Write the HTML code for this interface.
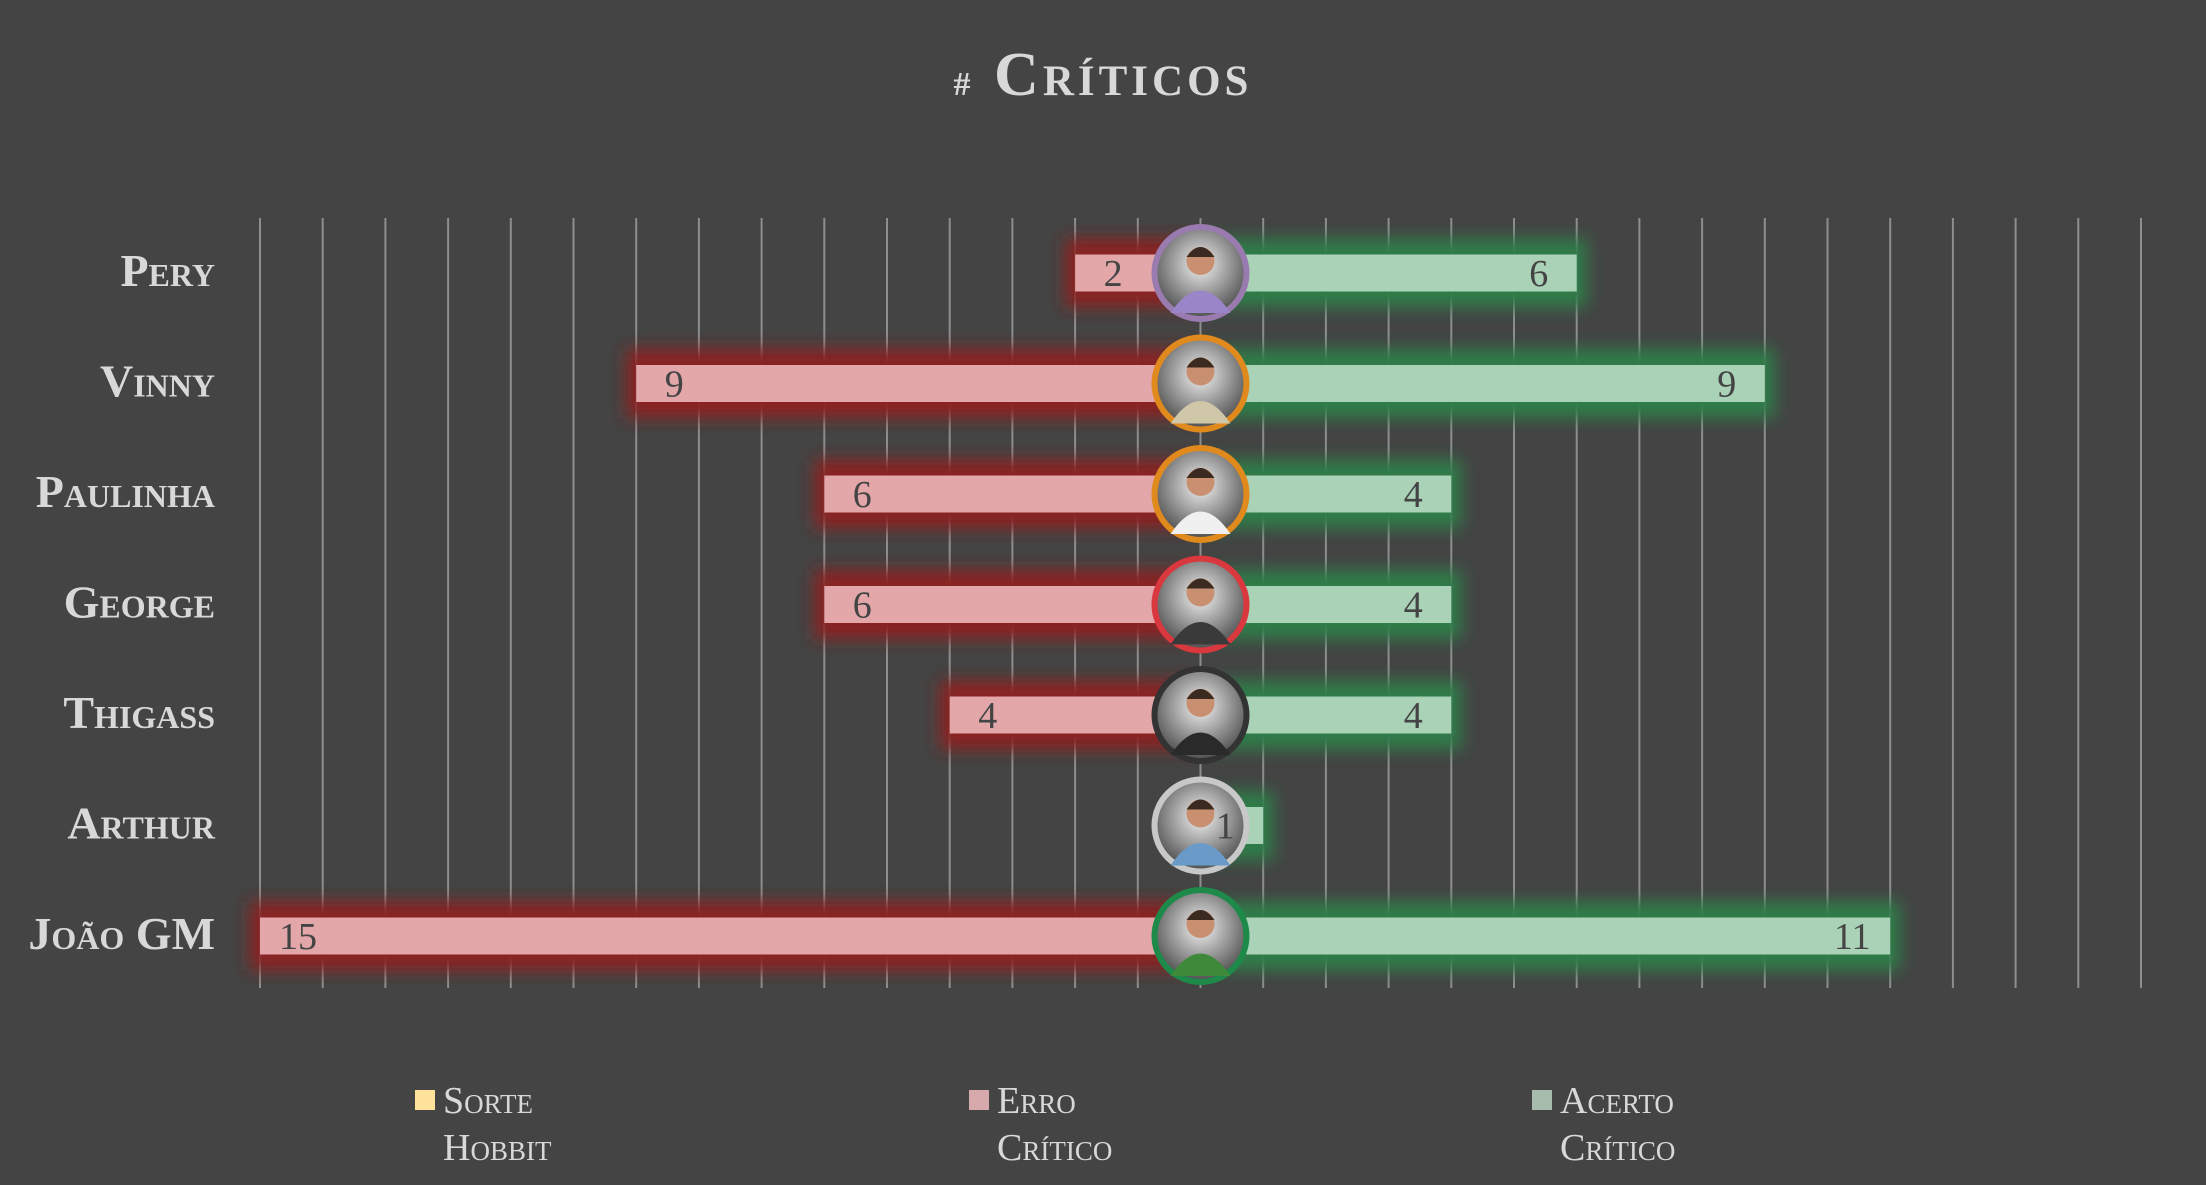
<!DOCTYPE html>
<html><head><meta charset="utf-8"><style>
html,body{margin:0;padding:0;background:#434443;}
svg{display:block;}
text{font-family:"Liberation Serif",serif;}
.sc{font-variant:small-caps;}
</style></head><body>
<svg id="chart" width="2206" height="1185" viewBox="0 0 2206 1185" xmlns="http://www.w3.org/2000/svg">
<defs>
<filter id="glow" x="-20%" y="-100%" width="140%" height="300%"><feGaussianBlur stdDeviation="8"/></filter>
<radialGradient id="face" cx="50%" cy="40%" r="60%"><stop offset="0" stop-color="#f2f2f2"/><stop offset="1" stop-color="#555"/></radialGradient>
</defs>
<rect width="2206" height="1185" fill="#434443"/>
<text x="1103" y="95" text-anchor="middle" class="sc" font-size="62" font-weight="bold" fill="#d8d8d8" letter-spacing="4"><tspan font-size="34">#</tspan> Críticos</text>
<g id="grid"></g>
<g id="bars"></g>
<g id="labels"></g>
<g id="legend">
 <g><rect x="415" y="1090" width="20" height="20" fill="#ffe19a"/><text x="443" y="1113" class="sc" font-size="38" fill="#d8d8d8">Sorte</text><text x="443" y="1160" class="sc" font-size="38" fill="#d8d8d8">Hobbit</text></g>
 <g><rect x="969" y="1090" width="20" height="20" fill="#d6a9ac"/><text x="997" y="1113" class="sc" font-size="38" fill="#d8d8d8">Erro</text><text x="997" y="1160" class="sc" font-size="38" fill="#d8d8d8">Crítico</text></g>
 <g><rect x="1532" y="1090" width="20" height="20" fill="#a8bcae"/><text x="1560" y="1113" class="sc" font-size="38" fill="#d8d8d8">Acerto</text><text x="1560" y="1160" class="sc" font-size="38" fill="#d8d8d8">Crítico</text></g>
</g>
</svg>
<script>
const players = ["Pery","Vinny","Paulinha","George","Thigass","Arthur","João GM"];
const erros = [2,9,6,6,4,0,15];
const acertos = [6,9,4,4,4,1,11];
const ringColors = ["#9a7bb0","#e08a1e","#e08a1e","#d9383f","#333333","#c8c8c8","#1e8a4a"];
const shirtColors = ["#9b85c9","#cfc7a8","#f0f0f0","#3a3a3a","#2a2a2a","#6a9ac8","#3f8a3a"];
const xMin=-15, xMax=15;
const ns="http://www.w3.org/2000/svg";
const L=260, R=2141, T=218, B=988, top0=273, rowStep=110.5, barH=37;
const x = v => L + (v - xMin) * (R - L) / (xMax - xMin);
const y = i => top0 + i * rowStep;
function mk(tag, attrs, parent){const e=document.createElementNS(ns,tag);for(const k in attrs)e.setAttribute(k,attrs[k]);parent.appendChild(e);return e;}
const grid=document.getElementById('grid');
for(let v=xMin; v<=xMax; v++){
  const l=mk('line',{x1:x(v),x2:x(v),y1:T,y2:B,stroke:'#8e8e8e','stroke-width':2},grid);
  
  
}
const bars=document.getElementById('bars');
const labels=document.getElementById('labels');
players.forEach((p,i)=>{
  const cy=y(i);
  const g=mk('g',{},bars);
  
  
  const lab=mk('text',{x:215,y:cy+13,'text-anchor':'end','font-size':46,fill:'#d8d8d8',class:'sc','font-weight':'bold'},g);
  lab.textContent=p;
  
  
  if(erros[i]>0){
    const x0=x(-erros[i]), w=x(0)-x0;
    mk('rect',{x:x0-10,y:cy-barH/2-16,width:w+10,height:barH+32,fill:'#8a2424',filter:'url(#glow)'},g);
    const r=mk('rect',{x:x0,y:cy-barH/2,width:w,height:barH,fill:'#e3a6a9'},g);
    
    
    const t=mk('text',{x:x0+38,y:cy+13,'text-anchor':'middle','font-size':38,fill:'#444'},labels);
    t.textContent=erros[i];
    
    
  }
  if(acertos[i]>0){
    const x1=x(acertos[i]), w=x1-x(0);
    mk('rect',{x:x(0),y:cy-barH/2-16,width:w+10,height:barH+32,fill:'#2f7d48',filter:'url(#glow)'},g);
    const r=mk('rect',{x:x(0),y:cy-barH/2,width:w,height:barH,fill:'#a9d2b7'},g);
    
    
    const t=mk('text',{x:x1-38,y:cy+13,'text-anchor':'middle','font-size':38,fill:'#444'},labels);
    t.textContent=acertos[i];
    
    
  }
  const a=mk('g',{},g);
  
  
  const cx=x(0);
  mk('circle',{cx:cx,cy:cy,r:49,fill:ringColors[i]},a);
  mk('circle',{cx:cx,cy:cy,r:43,fill:'url(#face)'},a);
  mk('path',{d:`M${cx-30} ${cy+40} Q${cx} ${cy-5} ${cx+30} ${cy+40} Z`,fill:shirtColors[i]},a);
  mk('circle',{cx:cx,cy:cy-12,r:14,fill:'#c89070'},a);
  mk('path',{d:`M${cx-14} ${cy-16} Q${cx} ${cy-36} ${cx+14} ${cy-16} Z`,fill:'#3a2a20'},a);
});
</script>
</body></html>
